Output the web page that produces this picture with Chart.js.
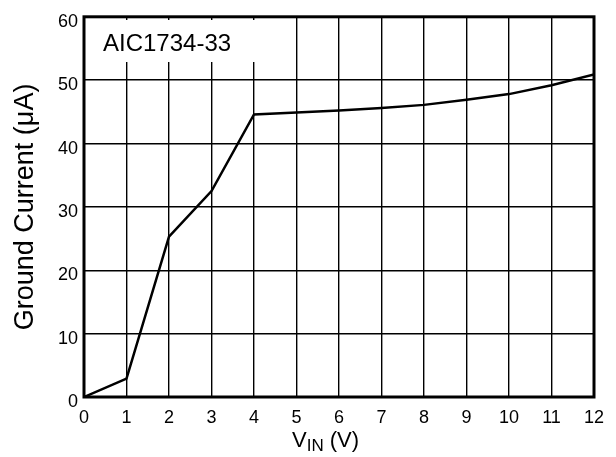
<!DOCTYPE html>
<html>
<head>
<meta charset="utf-8">
<script src="https://cdn.jsdelivr.net/npm/chart.js@4/dist/chart.umd.min.js"></script>
<style>
  html, body { margin: 0; padding: 0; background: #fff; }
  #wrap { width: 616px; height: 457px; }
</style>
</head>
<body>
<div id="wrap"><canvas id="gcChart"></canvas></div>
<script>
// Ground current vs input voltage
const vinValues = [0, 1, 2, 3, 4, 5, 6, 7, 8, 9, 10, 11, 12];
const groundCurrent = [0, 2.9, 25.3, 32.5, 44.6, 44.9, 45.2, 45.6, 46.1, 46.9, 47.8, 49.2, 50.9];
const deviceLabel = 'AIC1734-33';
const yTitle = 'Ground Current (\u03bcA)';

const FONT = '"Liberation Sans", Arial, sans-serif';

// white box with the part number, covers the grid in the top-left corner
const labelBox = {
  id: 'labelBox',
  beforeDatasetsDraw(chart) {
    const { ctx, chartArea } = chart;
    ctx.save();
    ctx.fillStyle = '#fff';
    ctx.fillRect(chartArea.left + 1, 20, 272 - chartArea.left, 42);
    ctx.fillStyle = '#000';
    ctx.font = '24px ' + FONT;
    ctx.textBaseline = 'alphabetic';
    ctx.fillText(deviceLabel, 103, 51);
    ctx.restore();
  }
};

// thick frame + x title with subscript
const frameAndTitle = {
  id: 'frameAndTitle',
  afterDraw(chart) {
    const { ctx, chartArea } = chart;
    ctx.save();
    ctx.strokeStyle = '#000';
    ctx.lineWidth = 3;
    ctx.strokeRect(chartArea.left, chartArea.top, chartArea.right - chartArea.left, chartArea.bottom - chartArea.top);

    ctx.fillStyle = '#000';
    ctx.textBaseline = 'alphabetic';
    const base = 447;
    let x = 292;
    ctx.font = '22px ' + FONT;
    ctx.fillText('V', x, base);
    x += ctx.measureText('V').width;
    ctx.font = '17px ' + FONT;
    ctx.fillText('IN', x, base + 4);
    x += ctx.measureText('IN').width;
    ctx.font = '22px ' + FONT;
    ctx.fillText(' (V)', x, base);
    ctx.restore();
  }
};

const ctx = document.getElementById('gcChart').getContext('2d');
new Chart(ctx, {
  type: 'line',
  data: {
    datasets: [{
      data: vinValues.map((v, i) => ({ x: v, y: groundCurrent[i] })),
      borderColor: '#000',
      borderWidth: 2.5,
      pointRadius: 0,
      tension: 0,
      fill: false
    }]
  },
  options: {
    responsive: true,
    maintainAspectRatio: false,
    animation: false,
    layout: { padding: { top: 9, right: 22, left: 0, bottom: 0 } },
    plugins: {
      legend: { display: false },
      tooltip: { enabled: false }
    },
    scales: {
      x: {
        type: 'linear',
        min: 0,
        max: 12,
        afterFit: (scale) => { scale.height = 60; },
        border: { display: false },
        grid: { color: '#000', lineWidth: 1.4, drawTicks: false },
        ticks: {
          stepSize: 1,
          padding: 10,
          color: '#000',
          font: { family: FONT, size: 18 }
        }
      },
      y: {
        min: 0,
        max: 60,
        afterFit: (scale) => { scale.width = 84; },
        border: { display: false },
        grid: { color: '#000', lineWidth: 1.4, drawTicks: false },
        ticks: {
          stepSize: 10,
          padding: 6,
          labelOffset: 5,
          color: '#000',
          font: { family: FONT, size: 18 }
        },
        title: {
          display: true,
          text: yTitle,
          color: '#000',
          font: { family: FONT, size: 27 },
          padding: { top: 9, bottom: 0 }
        }
      }
    }
  },
  plugins: [labelBox, frameAndTitle]
});
</script>
</body>
</html>
